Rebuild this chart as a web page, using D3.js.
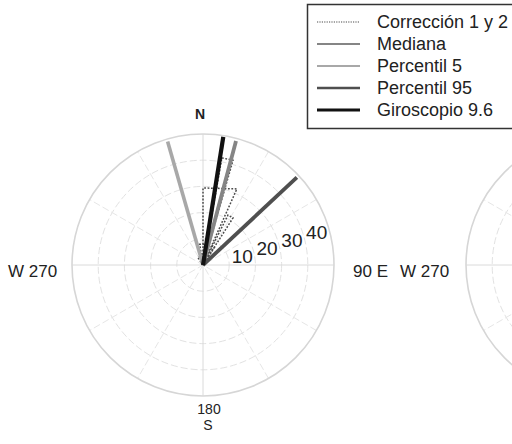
<!DOCTYPE html>
<html>
<head>
<meta charset="utf-8">
<script src="https://cdn.jsdelivr.net/npm/d3@7"></script>
<style>
  html, body { margin: 0; padding: 0; background: #fff; }
  svg { display: block; }
  text { font-family: "Liberation Sans", Arial, sans-serif; fill: #222; }
</style>
</head>
<body>
<svg id="chart" width="512" height="444"></svg>
<script>
// ---------------- data ----------------
const ringValues = [10, 20, 30, 40, 50];
const ringLabels = [10, 20, 30, 40];
const spokeAngles = [0, 30, 60, 90, 120, 150];

const seriesNames = ["Corrección 1 y 2", "Mediana", "Percentil 5", "Percentil 95", "Giroscopio 9.6"];

// ray series (compass degrees, magnitude)
const rayNames  = ["Percentil 5", "Mediana", "Percentil 95", "Giroscopio 9.6"];
const rayAngles = [344, 14.9, 47, 9];
const rayValues = [49, 49, 49, 49.5];

// "Corrección 1 y 2" rose wedges: start angle, end angle, radius at start, radius at end
const corrStart  = [0, 10, 26.6, -9, -35, 15];
const corrEnd    = [24, 16, 32.5, 5, -10, 33];
const corrRStart = [29.4, 41.5, 21.3, 8, 3.5, 8];
const corrREnd   = [31.8, 41.6, 21.3, 8, 3.5, 8];

// compass labels
const compassN = "N", compassS = "S", labelW = "W 270", labelE = "90 E", label180 = "180";

// ---------------- styles ----------------
const style = {
  "Corrección 1 y 2": { color: "#4a4a4a", width: 1.5, dash: "1.8,1.6", lw: 1.2 },
  "Mediana":          { color: "#858585", width: 3.8, dash: null, lw: 2.0 },
  "Percentil 5":      { color: "#a8a8a8", width: 3.6, dash: null, lw: 1.8 },
  "Percentil 95":     { color: "#4f4f4f", width: 3.8, dash: null, lw: 2.4 },
  "Giroscopio 9.6":   { color: "#111111", width: 4.2, dash: null, lw: 2.8 }
};

const svg = d3.select("#chart");
const R = 131;
const rScale = d3.scaleLinear().domain([0, 50]).range([0, R]);
const toRad = d3.scaleLinear().domain([0, 360]).range([0, 2 * Math.PI]);

function px(cx, deg, v) { return cx + rScale(v) * Math.sin(toRad(deg)); }
function py(cy, deg, v) { return cy - rScale(v) * Math.cos(toRad(deg)); }

function drawGrid(cx, cy) {
  const g = svg.append("g");
  g.selectAll("circle.ring").data(ringValues.slice(0, -1)).enter().append("circle")
    .attr("cx", cx).attr("cy", cy).attr("r", d => rScale(d))
    .attr("fill", "none").attr("stroke", "#e2e2e2").attr("stroke-width", 1)
    .attr("stroke-dasharray", "7,3");
  g.selectAll("line.spoke").data(spokeAngles).enter().append("line")
    .attr("x1", d => px(cx, d, 50)).attr("y1", d => py(cy, d, 50))
    .attr("x2", d => px(cx, d + 180, 50)).attr("y2", d => py(cy, d + 180, 50))
    .attr("stroke", d => (d % 90 === 0) ? "#dadada" : "#e6e6e6")
    .attr("stroke-width", 1)
    .attr("stroke-dasharray", d => (d % 90 === 0) ? null : "7,3");
  g.append("circle").attr("cx", cx).attr("cy", cy).attr("r", rScale(ringValues[ringValues.length - 1]))
    .attr("fill", "none").attr("stroke", "#d6d6d6").attr("stroke-width", 1.6);
  return g;
}

// ---- first polar plot ----
const cx1 = 203, cy1 = 265;
drawGrid(cx1, cy1);

const corrData = corrStart.map((s, i) => ({ a1: s, a2: corrEnd[i], r1: corrRStart[i], r2: corrREnd[i] }));
const sc = style["Corrección 1 y 2"];
svg.append("g").selectAll("path").data(corrData).enter().append("path")
  .attr("d", d => {
    const p = d3.path();
    p.moveTo(cx1, cy1);
    p.lineTo(px(cx1, d.a1, d.r1), py(cy1, d.a1, d.r1));
    p.lineTo(px(cx1, d.a2, d.r2), py(cy1, d.a2, d.r2));
    p.closePath();
    return p.toString();
  })
  .attr("fill", "none").attr("stroke", sc.color).attr("stroke-width", sc.width)
  .attr("stroke-dasharray", sc.dash);

const rayData = rayNames.map((n, i) => ({ name: n, a: rayAngles[i], v: rayValues[i] }));
svg.append("g").selectAll("line").data(rayData).enter().append("line")
  .attr("x1", cx1).attr("y1", cy1)
  .attr("x2", d => px(cx1, d.a, d.v)).attr("y2", d => py(cy1, d.a, d.v))
  .attr("stroke", d => style[d.name].color)
  .attr("stroke-width", d => style[d.name].width)
  .attr("stroke-linecap", "butt");

// radial tick labels
svg.append("g").selectAll("text").data(ringLabels).enter().append("text")
  .attr("x", d => px(cx1, 71, d) + 4).attr("y", d => py(cy1, 72, d) + 6)
  .attr("font-size", 19).attr("text-anchor", "start")
  .text(d => d);

// compass labels
svg.append("text").attr("x", 200).attr("y", 119).attr("text-anchor", "middle")
  .attr("font-size", 14).attr("font-weight", "bold").text(compassN);
svg.append("text").attr("x", 8).attr("y", 277).attr("font-size", 17).text(labelW);
svg.append("text").attr("x", 353).attr("y", 277).attr("font-size", 17).text(labelE);
svg.append("text").attr("x", 209).attr("y", 414).attr("text-anchor", "middle").attr("font-size", 14).text(label180);
svg.append("text").attr("x", 208).attr("y", 430).attr("text-anchor", "middle").attr("font-size", 14).text(compassS);

// ---- second polar plot (cut off at right) ----
const cx2 = 597, cy2 = 265;
drawGrid(cx2, cy2);
svg.append("text").attr("x", 400).attr("y", 277).attr("font-size", 17).text(labelW);

// ---- legend ----
const lg = svg.append("g");
lg.append("rect").attr("x", 307.5).attr("y", 4.5).attr("width", 230).attr("height", 124)
  .attr("fill", "#fff").attr("stroke", "#333").attr("stroke-width", 1.5);
const legendY = d3.scalePoint().domain(seriesNames).range([22, 110]);
const items = lg.selectAll("g.item").data(seriesNames).enter().append("g");
items.append("line")
  .attr("x1", 317).attr("x2", 360)
  .attr("y1", d => legendY(d)).attr("y2", d => legendY(d))
  .attr("stroke", d => style[d].color)
  .attr("stroke-width", d => style[d].lw)
  .attr("stroke-dasharray", d => style[d].dash ? "1.2,1.2" : null);
items.append("text")
  .attr("x", 377).attr("y", d => legendY(d) + 6)
  .attr("font-size", 18).text(d => d);
</script>
</body>
</html>
